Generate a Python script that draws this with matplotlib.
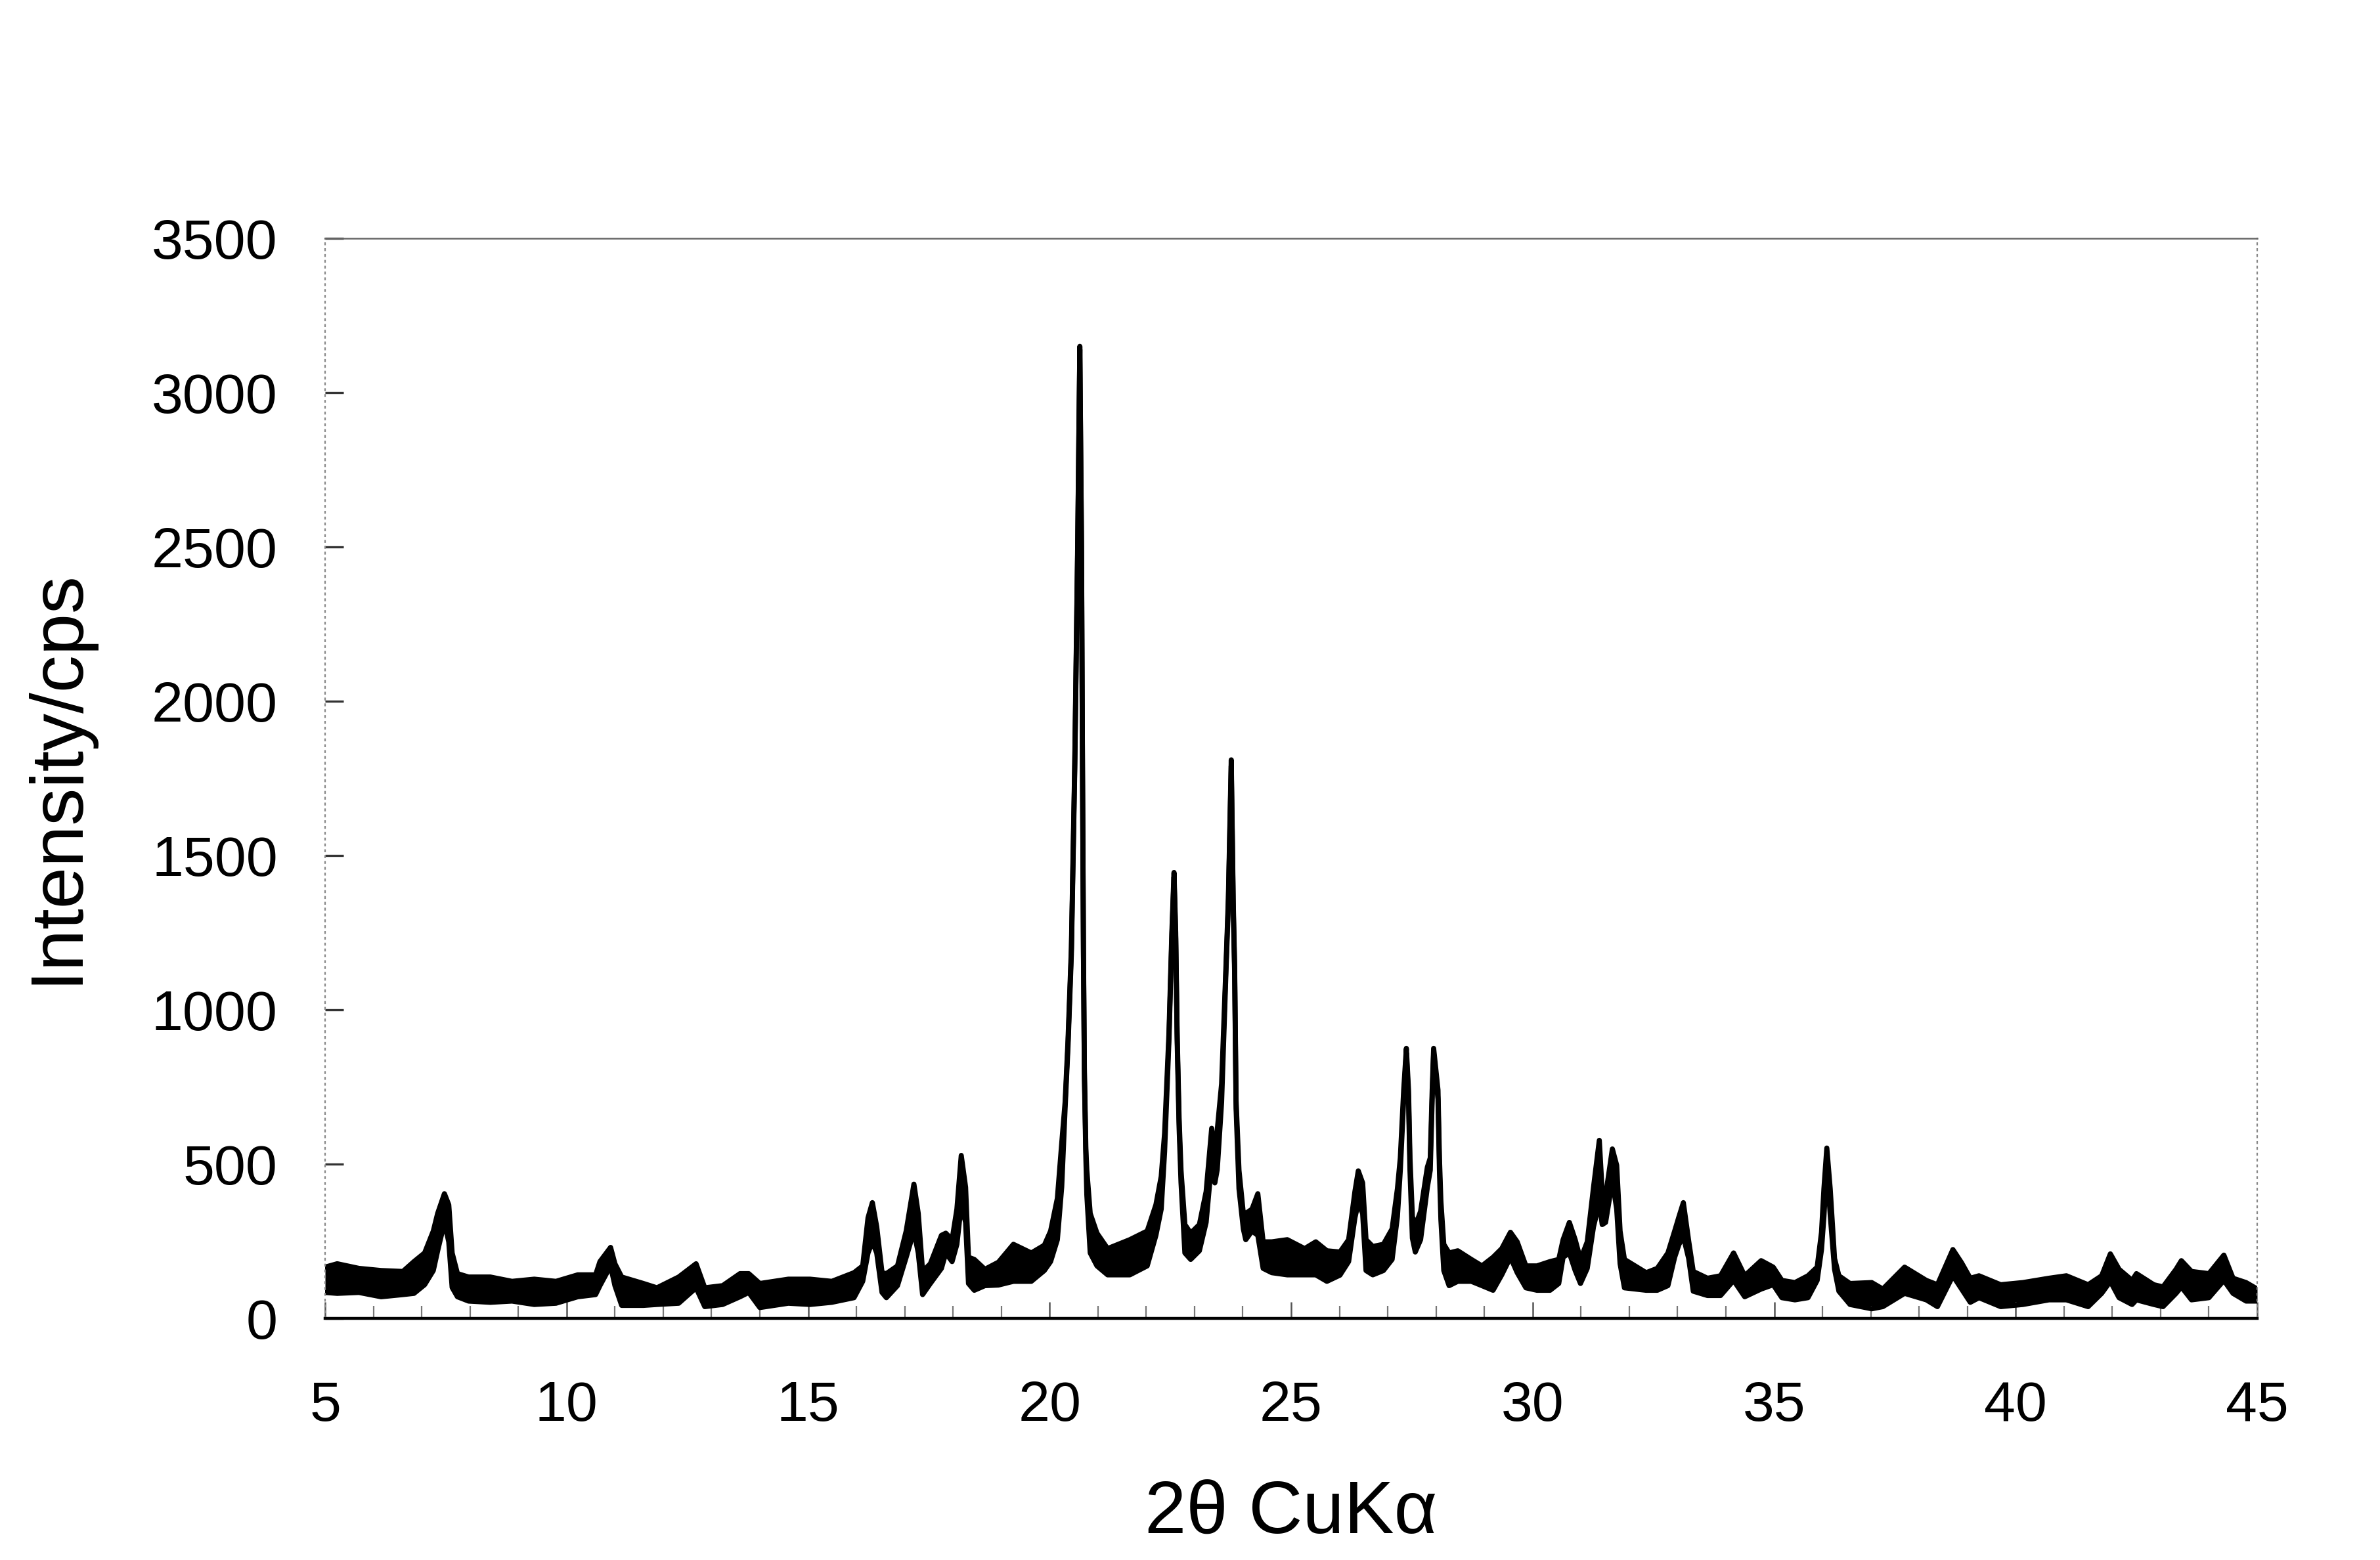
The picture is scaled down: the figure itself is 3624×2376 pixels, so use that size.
import matplotlib
matplotlib.use("Agg")
import matplotlib.pyplot as plt
import numpy as np

plt.rcParams["font.family"] = ["Liberation Sans", "DejaVu Sans"]

# XRD trace: 2theta, upper and lower edge of the noisy band (cps)
two_theta = [
    5.00, 5.25, 5.70, 6.16, 6.61, 6.84, 7.06, 7.24, 7.33, 7.47, 7.56, 7.63, 7.74,
    7.97, 8.42, 8.87, 9.33, 9.78, 10.23, 10.60, 10.69, 10.91, 11.00, 11.14, 11.59,
    11.87, 12.32, 12.68, 12.86, 13.23, 13.59, 13.77, 14.00, 14.59, 15.04, 15.49,
    15.95, 16.13, 16.24, 16.33, 16.42, 16.53, 16.62, 16.85, 17.03, 17.19, 17.28,
    17.37, 17.53, 17.76, 17.85, 17.98, 18.08, 18.17, 18.26, 18.32, 18.44, 18.66,
    18.94, 19.25, 19.62, 19.89, 20.02, 20.16, 20.25, 20.32, 20.38, 20.45, 20.52,
    20.58, 20.625, 20.66, 20.68, 20.70, 20.72, 20.75, 20.77, 20.84, 20.98, 21.20,
    21.66, 22.02, 22.20, 22.31, 22.38, 22.47, 22.53, 22.575, 22.61, 22.64, 22.68,
    22.72, 22.80, 22.92, 23.10, 23.24, 23.355, 23.42, 23.47, 23.56, 23.65, 23.70,
    23.76, 23.80, 23.83, 23.86, 23.92, 24.01, 24.06, 24.19, 24.31, 24.42, 24.60,
    24.92, 25.28, 25.51, 25.74, 26.01, 26.19, 26.32, 26.39, 26.48, 26.55, 26.69,
    26.91, 27.09, 27.20, 27.26, 27.33, 27.385, 27.43, 27.46, 27.51, 27.57, 27.68,
    27.82, 27.88, 27.92, 27.95, 28.04, 28.07, 28.10, 28.16, 28.27, 28.45, 28.73,
    28.95, 29.18, 29.36, 29.54, 29.68, 29.86, 30.09, 30.36, 30.54, 30.63, 30.76,
    30.88, 30.99, 31.13, 31.26, 31.38, 31.44, 31.51, 31.65, 31.74, 31.81, 31.90,
    32.35, 32.58, 32.80, 32.94, 33.03, 33.12, 33.23, 33.325, 33.62, 33.89, 34.16,
    34.39, 34.73, 34.98, 35.16, 35.43, 35.70, 35.89, 35.98, 36.03, 36.09, 36.16,
    36.25, 36.34, 36.57, 37.02, 37.25, 37.70, 38.15, 38.38, 38.70, 38.88, 39.06,
    39.24, 39.69, 40.15, 40.69, 41.05, 41.50, 41.78, 41.96, 42.14, 42.41, 42.50,
    42.86, 43.05, 43.32, 43.43, 43.64, 44.00, 44.31, 44.50, 44.77, 45.00,
]
intensity_hi = [
    166, 177, 162, 155, 152, 184, 212, 283, 340, 404, 368, 212, 145,
    134, 134, 120, 127, 120, 141, 141, 184, 230, 177, 134, 113,
    99, 134, 177, 99, 106, 145, 145, 113, 127, 127, 120,
    148, 170, 326, 375, 297, 148, 145, 170, 283, 435, 340,
    152, 177, 269, 276, 255, 354, 528, 425, 198, 191, 159,
    182, 240, 212, 237, 283, 389, 567, 700, 900, 1200, 1800,
    2500, 3150, 2500, 1800, 1200, 800, 550, 480, 340, 276, 226,
    255, 283, 368, 460, 600, 923, 1250, 1445, 1250, 923, 650,
    480, 304, 276, 304, 411, 616, 510, 610, 760, 1140, 1360,
    1810, 1360, 1140, 706, 480, 340, 340, 354, 404, 248, 248,
    255, 226, 248, 219, 215, 255, 411, 478, 439, 255, 233,
    240, 290, 420, 520, 740, 875, 740, 520, 330, 300, 347,
    490, 520, 740, 875, 740, 520, 380, 240, 212, 219, 191,
    170, 198, 226, 279, 248, 170, 170, 184, 191, 255, 311,
    255, 191, 248, 425, 577, 408, 397, 549, 496, 283, 191,
    148, 162, 212, 283, 330, 375, 251, 152, 130, 138, 212,
    138, 187, 166, 123, 116, 138, 166, 279, 420, 552, 420,
    194, 138, 113, 116, 95, 166, 123, 109, 223, 180, 130,
    138, 109, 116, 130, 138, 109, 138, 209, 159, 123, 145,
    109, 102, 159, 187, 152, 145, 205, 130, 116, 95,
]
intensity_lo = [
    84, 81, 84, 70, 77, 81, 109, 155, 219, 311, 248, 100, 70,
    56, 52, 56, 45, 49, 70, 77, 106, 170, 106, 42, 42,
    45, 49, 99, 38, 45, 70, 84, 35, 49, 45, 52,
    67, 120, 212, 248, 212, 84, 67, 106, 198, 283, 212,
    77, 113, 162, 212, 184, 240, 368, 311, 113, 91, 106,
    108, 120, 120, 155, 184, 255, 426, 680, 880, 1180, 1780,
    2480, 3140, 2480, 1780, 1180, 780, 520, 400, 212, 170, 141,
    141, 170, 269, 354, 540, 900, 1230, 1430, 1230, 900, 620,
    440, 212, 191, 219, 311, 510, 439, 482, 700, 1120, 1340,
    1790, 1340, 1120, 680, 420, 290, 255, 283, 269, 162, 148,
    141, 141, 141, 120, 140, 184, 326, 375, 340, 155, 141,
    155, 191, 330, 480, 710, 860, 710, 480, 260, 215, 255,
    425, 480, 710, 860, 710, 480, 320, 155, 106, 120, 120,
    106, 91, 141, 198, 148, 99, 91, 91, 113, 198, 212,
    155, 113, 162, 297, 375, 304, 311, 446, 354, 177, 99,
    91, 91, 106, 198, 240, 265, 194, 88, 74, 74, 123,
    70, 95, 109, 67, 60, 67, 123, 223, 330, 500, 336,
    159, 88, 45, 31, 38, 81, 60, 38, 138, 95, 52,
    67, 38, 45, 60, 60, 38, 81, 120, 67, 45, 60,
    45, 38, 81, 102, 60, 67, 123, 81, 56, 56,
]

x_ticks = [5, 10, 15, 20, 25, 30, 35, 40, 45]
y_ticks = [0, 500, 1000, 1500, 2000, 2500, 3000, 3500]

fig = plt.figure(figsize=(18.12, 11.88), dpi=200)
fig.patch.set_facecolor("white")
ax = fig.add_axes([0.1366, 0.1549, 0.8118, 0.6923])

ax.fill_between(two_theta, intensity_lo, intensity_hi, color="black", linewidth=0)
ax.plot(two_theta, intensity_hi, color="black", linewidth=2.8, solid_joinstyle="round")
ax.plot(two_theta, intensity_lo, color="black", linewidth=2.8, solid_joinstyle="round")

ax.set_xlim(5, 45)
ax.set_ylim(0, 3500)
ax.set_xticks(x_ticks)
ax.set_xticks(np.arange(5, 46, 1), minor=True)
ax.set_yticks(y_ticks)
ax.tick_params(axis="x", which="major", direction="in", length=9, width=0.9,
               color="#555555", labelsize=31, pad=34)
ax.tick_params(axis="x", which="minor", direction="in", length=7, width=0.8,
               color="#777777")
ax.tick_params(axis="y", which="major", direction="in", length=10, width=1.2,
               color="#333333", labelsize=31, pad=26)

ax.spines["bottom"].set_linewidth(1.6)
ax.spines["bottom"].set_color("black")
ax.spines["top"].set_linewidth(0.9)
ax.spines["top"].set_color("#666666")
for side in ["left", "right"]:
    ax.spines[side].set_linewidth(0.8)
    ax.spines[side].set_color("#888888")
    ax.spines[side].set_linestyle((0, (1, 3)))

fig.text(1966 / 3624, 1 - 2306 / 2376, "2θ CuKα", fontsize=41,
         ha="center", va="center")
fig.text(88 / 3624, 1 - 1183 / 2376, "Intensity/cps", fontsize=41,
         ha="center", va="center", rotation=90)

fig.savefig("out.png", dpi=200, facecolor="white")
plt.close(fig)
